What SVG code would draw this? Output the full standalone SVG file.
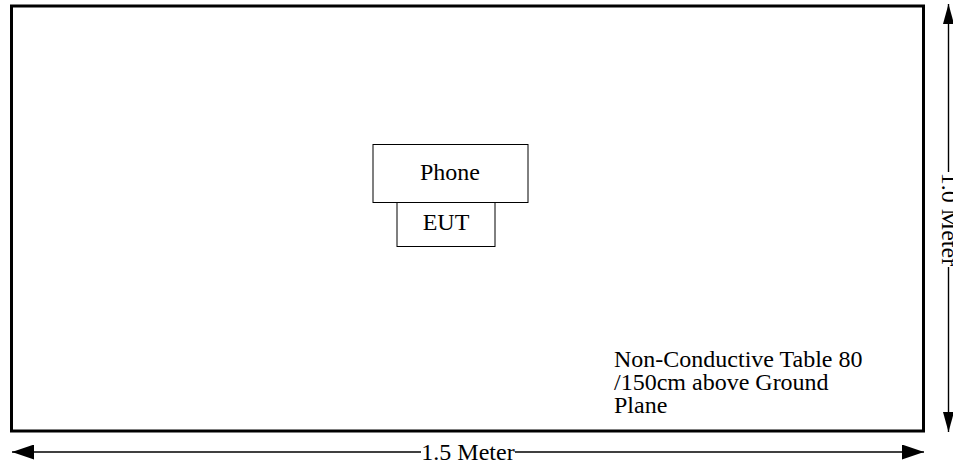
<svg xmlns="http://www.w3.org/2000/svg" width="953" height="467" viewBox="0 0 953 467">
  <style>
    .t { font-family: "Liberation Serif", "Times New Roman", serif; font-size: 24px; fill: #000; }
    .box { fill: #fff; stroke: #000; stroke-width: 1; }
    .dim { stroke: #000; stroke-width: 1.4; fill: none; }
  </style>
  <defs>
    <marker id="ah" markerUnits="userSpaceOnUse" markerWidth="22" markerHeight="15" refX="22" refY="7.5" orient="auto-start-reverse" viewBox="0 0 22 15">
      <path d="M0,0 L22,7.5 L0,15 z" fill="#000"/>
    </marker>
    <marker id="av" markerUnits="userSpaceOnUse" markerWidth="20" markerHeight="11" refX="20" refY="5.5" orient="auto-start-reverse" viewBox="0 0 20 11">
      <path d="M0,0 L20,5.5 L0,11 z" fill="#000"/>
    </marker>
  </defs>
  <rect width="953" height="467" fill="#fff"/>
  <g id="table">
    <rect x="11.5" y="6" width="912" height="425" fill="#fff" stroke="#000" stroke-width="3"/>
    <text class="t" x="614" y="367">Non-Conductive Table 80</text>
    <text class="t" x="614" y="390">/150cm above Ground</text>
    <text class="t" x="614" y="413">Plane</text>
  </g>
  <g id="phone">
    <rect class="box" x="373" y="144.5" width="155" height="58"/>
    <text class="t" x="450" y="180" text-anchor="middle">Phone</text>
  </g>
  <g id="eut">
    <rect class="box" x="397" y="202.5" width="98" height="44"/>
    <text class="t" x="446" y="230" text-anchor="middle">EUT</text>
  </g>
  <g id="connectors">
    <line class="dim" x1="421" y1="452" x2="12" y2="452" marker-end="url(#ah)"/>
    <line class="dim" x1="515" y1="452" x2="924" y2="452" marker-end="url(#ah)"/>
    <line class="dim" x1="948.5" y1="172" x2="948.5" y2="4" marker-end="url(#av)"/>
    <line class="dim" x1="948.5" y1="267" x2="948.5" y2="432" marker-end="url(#av)"/>
  </g>
  <g id="labels">
    <text class="t" x="468" y="460" text-anchor="middle">1.5 Meter</text>
    <text class="t" transform="translate(941.5,219.5) rotate(90)" text-anchor="middle">1.0 Meter</text>
  </g>
</svg>
